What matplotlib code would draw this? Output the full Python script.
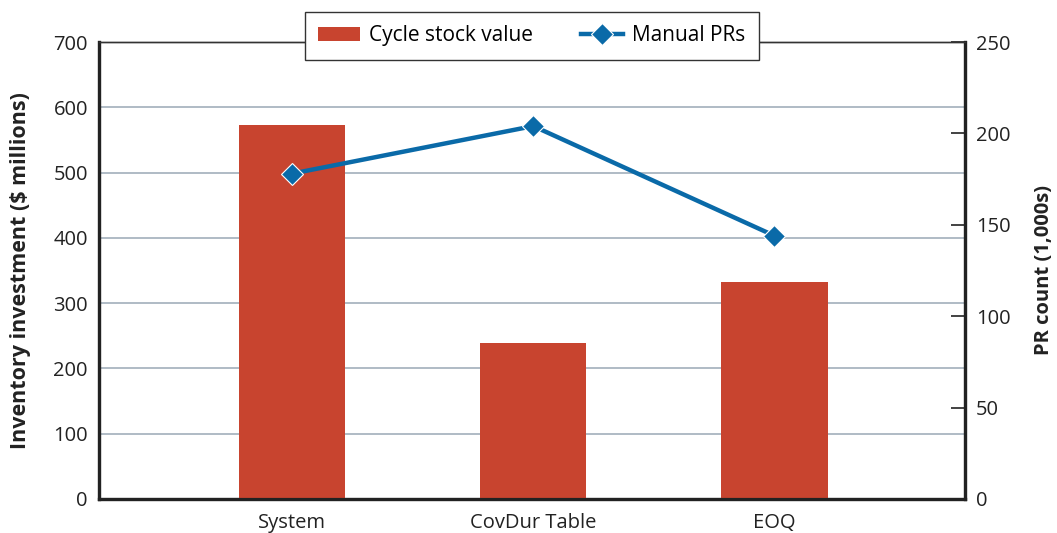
import matplotlib.pyplot as plt
from matplotlib.patches import Patch
from matplotlib.lines import Line2D

plt.rcParams['font.family'] = ['Open Sans', 'DejaVu Sans']

# data
categories  = ['System', 'CovDur Table', 'EOQ']
cycle_stock = [573, 239, 332]     # $ millions (left axis)
manual_prs  = [178, 204, 144]     # 1,000s (right axis)

bar_color  = '#c8442f'
line_color = '#0a6aa8'
grid_color = '#a9b5c0'
text_color = '#222222'

fig = plt.figure(figsize=(10.57, 5.33), dpi=100)
ax = fig.add_axes([0.0937, 0.0638, 0.8193, 0.8574])
ax2 = ax.twinx()

x = list(range(len(categories)))
ax.bar(x, cycle_stock, width=0.44, color=bar_color, zorder=3)
ax.set_xlim(-0.80, 2.79)
ax.set_ylim(0, 700)
ax.set_yticks(range(0, 701, 100))
ax.set_xticks(x)
ax.set_xticklabels(categories)
ax.set_axisbelow(True)
for v in range(100, 700, 100):
    ax.axhline(v, color=grid_color, lw=1.3, zorder=1)
ax.tick_params(axis='y', length=0, pad=8, labelsize=14.5, colors=text_color)
ax.tick_params(axis='x', length=0, pad=10, labelsize=14.5, colors=text_color)
ax.set_ylabel('Inventory investment ($ millions)', fontsize=15.5,
              fontweight='bold', labelpad=16, color=text_color)

ax2.plot(x, manual_prs, color=line_color, lw=3.2, marker='D', ms=11.5,
         mec='white', mew=0.8, zorder=4)
ax2.set_ylim(0, 250)
ax2.set_yticks(range(0, 251, 50))
ax2.tick_params(axis='y', direction='in', length=10, width=1.2, pad=8,
                labelsize=14.5, colors=text_color)
ax2.set_ylabel('PR count (1,000s)', fontsize=14.5, fontweight='bold',
               labelpad=17, color=text_color)

for a in (ax, ax2):
    for side in ('left', 'bottom', 'right'):
        a.spines[side].set_linewidth(2.3)
        a.spines[side].set_color(text_color)
    a.spines['top'].set_linewidth(1.0)
    a.spines['top'].set_color('#333333')

handles = [Patch(facecolor=bar_color, edgecolor='none'),
           Line2D([], [], color=line_color, lw=3.2, marker='D', ms=11.5,
                  mec='white', mew=0.8)]
leg = ax2.legend(handles, ['Cycle stock value', 'Manual PRs'], ncol=2,
                 loc='center', bbox_to_anchor=(0.5, 1.014), frameon=True,
                 fancybox=False, fontsize=15, handlelength=2.0,
                 handletextpad=0.45, columnspacing=2.3, borderpad=0.65)
leg.get_frame().set_edgecolor('#333333')
leg.get_frame().set_linewidth(1.0)
leg.get_frame().set_alpha(1)
leg.set_zorder(10)

fig.savefig('out.png', dpi=100)
